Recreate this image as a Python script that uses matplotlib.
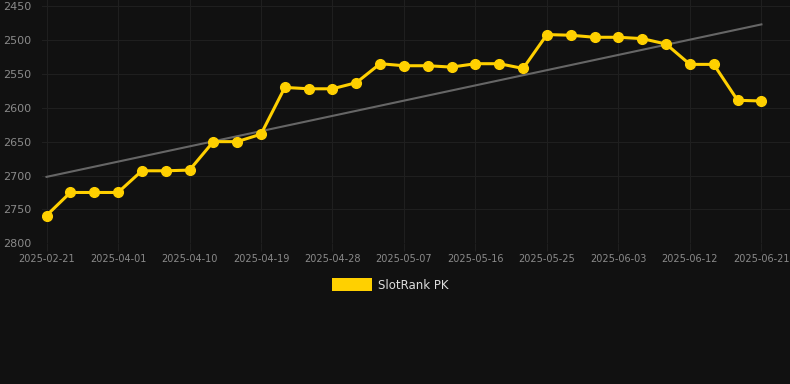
#!/usr/bin/env python3
"""SlotRank PK rank history, dark theme."""
import matplotlib
matplotlib.use("Agg")
import matplotlib.pyplot as plt
from matplotlib.patches import Patch

dates = [
    "2025-02-21", "2025-03-26", "2025-03-29", "2025-04-01", "2025-04-04", "2025-04-07",
    "2025-04-10", "2025-04-13", "2025-04-16", "2025-04-19", "2025-04-22", "2025-04-25",
    "2025-04-28", "2025-05-01", "2025-05-04", "2025-05-07", "2025-05-10", "2025-05-13",
    "2025-05-16", "2025-05-19", "2025-05-22", "2025-05-25", "2025-05-28", "2025-05-31",
    "2025-06-03", "2025-06-06", "2025-06-09", "2025-06-12", "2025-06-15", "2025-06-18",
    "2025-06-21",
]
rank = [
    2759, 2725, 2725, 2725, 2693, 2693, 2692, 2650, 2650, 2639,
    2570, 2572, 2572, 2563, 2535, 2538, 2538, 2540, 2535, 2535,
    2542, 2492, 2493, 2496, 2496, 2498, 2506, 2536, 2536, 2589,
    2590,
]
trend_start, trend_end = 2702, 2477
series_name = "SlotRank PK"
yticks = [2450, 2500, 2550, 2600, 2650, 2700, 2750, 2800]

BG = "#111111"
GOLD = "#FFD000"

fig = plt.figure(figsize=(7.9, 3.84), dpi=100, facecolor=BG)
ax = fig.add_axes([42 / 790, 1 - 243.3 / 384, 748 / 790, 243.3 / 384])
ax.set_facecolor(BG)

x = list(range(len(dates)))
ax.plot([x[0], x[-1]], [trend_start, trend_end], color="#666666", lw=1.5, zorder=2)
ax.plot(x, rank, color=GOLD, lw=2.2, marker="o", markersize=7, zorder=3)

ax.set_xlim(-0.19, 31.2)
ax.set_ylim(2800, 2441)
ax.set_yticks(yticks)
ax.set_xticks(x[::3])
ax.set_xticklabels(dates[::3])

ax.grid(True, color="#1f1f1f", lw=0.8)
ax.set_axisbelow(True)
for s in ax.spines.values():
    s.set_visible(False)
ax.tick_params(axis="y", length=0, pad=5, labelsize=8, labelcolor="#8a8a8a")
ax.tick_params(axis="x", length=6, color="#1f1f1f", pad=2, labelsize=7, labelcolor="#8a8a8a")
for lab in ax.get_yticklabels():
    lab.set_horizontalalignment("left")
    lab.set_x(-32 / 748)

fig.legend(handles=[Patch(facecolor=GOLD, edgecolor="none", label=series_name)],
           loc="center", bbox_to_anchor=(390 / 790, 1 - 285 / 384),
           frameon=False, fontsize=8.5, labelcolor="#dddddd",
           handlelength=3.4, handleheight=1.3, handletextpad=0.5)

fig.savefig("out.png", dpi=100, facecolor=BG)
